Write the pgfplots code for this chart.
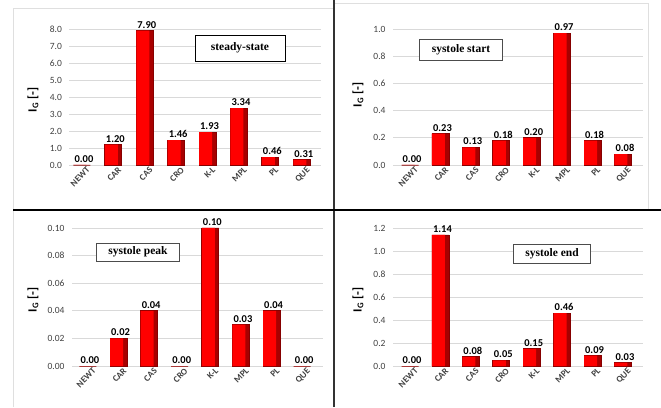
\documentclass[border=0pt]{standalone}
\usepackage{pgfplots}
\pgfplotsset{compat=1.18}
\usepackage{fontspec}
\setmainfont{Carlito}
\newfontfamily\boxfont{Liberation Serif}
\definecolor{barred}{HTML}{FF0000}
\definecolor{baredge}{HTML}{A80000}
\definecolor{gridc}{HTML}{D9D9D9}
\definecolor{tickc}{HTML}{404040}
\pgfplotsset{
  panel/.style={
    scale only axis,
    anchor=south west,
    ybar, bar width=17pt,
    ymin=0,
    axis line style={draw=none},
    major tick length=0pt,
    ymajorgrids, grid style={gridc, line width=0.8pt},
    xtick=data,
    xticklabels={NEWT,CAR,CAS,CRO,K-L,MPL,PL,QUE},
    xticklabel style={rotate=45, anchor=north east, font=\fontsize{9}{10}\selectfont\bfseries, text=tickc, inner sep=1pt, yshift=-3pt, xshift=3pt},
    yticklabel style={font=\fontsize{9.5}{10}\selectfont, text=tickc, xshift=-4pt},
    /pgf/number format/assume math mode=true,
    clip=false,
  },
  vals/.style={nodes near coords, nodes near coords style={font=\fontsize{10.5}{11}\selectfont\bfseries, text=black, /pgf/number format/fixed, /pgf/number format/fixed zerofill, /pgf/number format/precision=2, inner sep=2pt, xshift=2pt}},
  darkbar/.style={fill=baredge, draw=baredge!80!black, line width=0.8pt, bar shift=0pt, vals},
  redbar/.style={fill=barred, draw=none, bar width=13pt, bar shift=-2pt},
}
\begin{document}
\begin{tikzpicture}
\path[use as bounding box] (0pt,0pt) rectangle (661pt,407pt);
% light frames
\draw[gray!25, line width=0.6pt] (13pt,0pt) -- (13pt,399pt) -- (333pt,399pt);
\draw[gray!25, line width=0.6pt] (335pt,404pt) -- (648pt,404pt) -- (648pt,198pt);
% TL: steady-state
\begin{axis}[panel, at={(69.4pt,242pt)}, width=251.2pt, height=142.8pt,
  xmin=-0.4, xmax=7.6, ymax=8.4, ytick={0,1,...,8},
  yticklabel style={/pgf/number format/fixed, /pgf/number format/fixed zerofill, /pgf/number format/precision=1}]
\addplot[darkbar] coordinates {(0,0.00) (1,1.20) (2,7.90) (3,1.46) (4,1.93) (5,3.34) (6,0.46) (7,0.31)};
\addplot[redbar] coordinates {(0,0.00) (1,1.20) (2,7.90) (3,1.46) (4,1.93) (5,3.34) (6,0.46) (7,0.31)};
\end{axis}
% TR: systole start
\begin{axis}[panel, at={(393pt,242pt)}, width=250pt, height=142.8pt,
  xmin=-0.56, xmax=7.66, ymax=1.05, ytick={0,0.2,0.4,0.6,0.8,1.0},
  yticklabel style={/pgf/number format/fixed, /pgf/number format/fixed zerofill, /pgf/number format/precision=1}]
\addplot[darkbar] coordinates {(0,0.00) (1,0.23) (2,0.13) (3,0.18) (4,0.20) (5,0.97) (6,0.18) (7,0.08)};
\addplot[redbar] coordinates {(0,0.00) (1,0.23) (2,0.13) (3,0.18) (4,0.20) (5,0.97) (6,0.18) (7,0.08)};
\end{axis}
% BL: systole peak
\begin{axis}[panel, at={(72pt,41pt)}, width=251pt, height=144.9pt,
  xmin=-0.52, xmax=7.68, ymax=0.105, ytick={0,0.02,0.04,0.06,0.08,0.10},
  yticklabel style={/pgf/number format/fixed, /pgf/number format/fixed zerofill, /pgf/number format/precision=2}]
\addplot[darkbar] coordinates {(0,0.00) (1,0.02) (2,0.04) (3,0.00) (4,0.10) (5,0.03) (6,0.04) (7,0.00)};
\addplot[redbar] coordinates {(0,0.00) (1,0.02) (2,0.04) (3,0.00) (4,0.10) (5,0.03) (6,0.04) (7,0.00)};
\end{axis}
% BR: systole end
\begin{axis}[panel, at={(393pt,41pt)}, width=250pt, height=144.9pt,
  xmin=-0.56, xmax=7.66, ymax=1.26, ytick={0,0.2,0.4,0.6,0.8,1.0,1.2},
  yticklabel style={/pgf/number format/fixed, /pgf/number format/fixed zerofill, /pgf/number format/precision=1}]
\addplot[darkbar] coordinates {(0,0.00) (1,1.14) (2,0.08) (3,0.05) (4,0.15) (5,0.46) (6,0.09) (7,0.03)};
\addplot[redbar] coordinates {(0,0.00) (1,1.14) (2,0.08) (3,0.05) (4,0.15) (5,0.46) (6,0.09) (7,0.03)};
\end{axis}
% y labels
\node[rotate=90, font=\fontsize{12.5}{13}\selectfont\bfseries] at (33pt,307pt) {I\textsubscript{G} [-]};
\node[rotate=90, font=\fontsize{12.5}{13}\selectfont\bfseries] at (358pt,312pt) {I\textsubscript{G} [-]};
\node[rotate=90, font=\fontsize{12.5}{13}\selectfont\bfseries] at (33pt,107pt) {I\textsubscript{G} [-]};
\node[rotate=90, font=\fontsize{12.5}{13}\selectfont\bfseries] at (358pt,107pt) {I\textsubscript{G} [-]};
% boxes
\node[draw=black, fill=white, line width=0.6pt, font=\boxfont\fontsize{11.5}{13}\selectfont\bfseries, minimum width=90pt, minimum height=26pt] at (240pt,359pt) {steady-state};
\node[draw=black!70, fill=white, line width=0.6pt, font=\boxfont\fontsize{11.5}{13}\selectfont\bfseries, minimum width=83pt, minimum height=21pt] at (461pt,357pt) {systole start};
\node[draw=black!70, fill=white, line width=0.6pt, font=\boxfont\fontsize{11.5}{13}\selectfont\bfseries, minimum width=83pt, minimum height=18pt] at (138pt,155pt) {systole peak};
\node[draw=black!70, fill=white, line width=0.6pt, font=\boxfont\fontsize{11.5}{13}\selectfont\bfseries, minimum width=77pt, minimum height=19pt] at (552pt,153pt) {systole end};
% dividers
\draw[black!80, line width=2pt] (334pt,0pt) -- (334pt,407pt);
\draw[black, line width=2pt] (13pt,197pt) -- (661pt,197pt);
\end{tikzpicture}
\end{document}
